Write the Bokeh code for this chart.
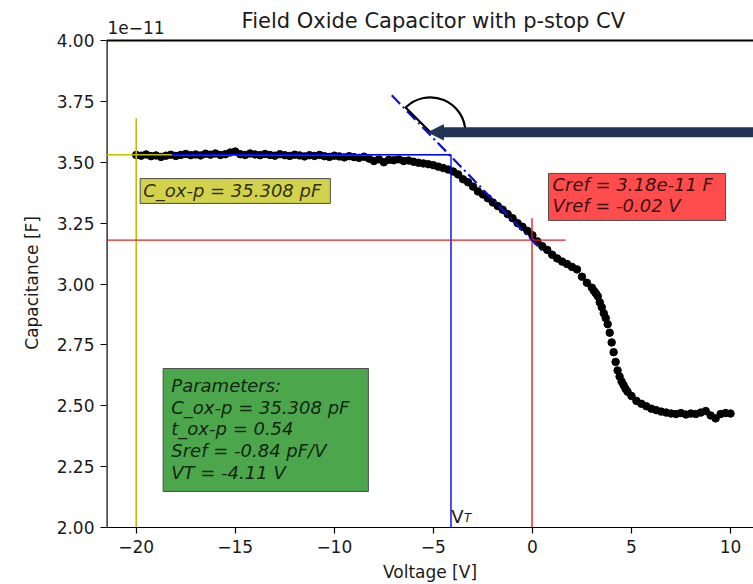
from bokeh.plotting import figure
from bokeh.models import Range1d, FixedTicker, Label, Arrow, NormalHead, PrintfTickFormatter
from bokeh.embed import file_html
from bokeh.resources import INLINE

# ---- data (capacitance in units of 1e-11 F) ----
voltage = [
    -20.00, -19.75, -19.50, -19.25, -19.00, -18.75, -18.50, -18.25, -18.00, -17.75,
    -17.50, -17.25, -17.00, -16.75, -16.50, -16.25, -16.00, -15.75, -15.50, -15.25,
    -15.00, -14.75, -14.50, -14.25, -14.00, -13.75, -13.50, -13.25, -13.00, -12.75,
    -12.50, -12.25, -12.00, -11.75, -11.50, -11.25, -11.00, -10.75, -10.50, -10.25,
    -10.00, -9.75, -9.50, -9.25, -9.00, -8.75, -8.50, -8.25, -8.00, -7.75,
    -7.50, -7.25, -7.00, -6.75, -6.50, -6.25, -6.00, -5.75, -5.50, -5.25,
    -5.00, -4.75, -4.50, -4.25, -4.00, -3.75, -3.50, -3.25, -3.00, -2.75,
    -2.50, -2.25, -2.00, -1.75, -1.50, -1.25, -1.00, -0.75, -0.50, -0.25,
    0.00, 0.25, 0.50, 0.75, 1.00, 1.25, 1.50, 1.75, 2.00, 2.25,
    2.50, 2.75, 3.00, 3.10, 3.20, 3.30, 3.40, 3.50, 3.60, 3.70,
    3.80, 3.90, 4.00, 4.10, 4.20, 4.30, 4.40, 4.50, 4.60, 4.70,
    4.80, 5.00, 5.25, 5.50, 5.75, 6.00, 6.25, 6.50, 6.75, 7.00,
    7.25, 7.50, 7.75, 8.00, 8.25, 8.50, 8.75, 9.00, 9.25, 9.50,
    9.75, 10.00,
]
capacitance = [
    3.530, 3.527, 3.532, 3.525, 3.528, 3.522, 3.527, 3.531, 3.526, 3.530,
    3.534, 3.529, 3.532, 3.528, 3.535, 3.531, 3.536, 3.530, 3.533, 3.540,
    3.544, 3.533, 3.530, 3.536, 3.532, 3.529, 3.534, 3.530, 3.527, 3.533,
    3.529, 3.526, 3.531, 3.528, 3.524, 3.529, 3.526, 3.530, 3.525, 3.522,
    3.527, 3.524, 3.520, 3.525, 3.521, 3.518, 3.523, 3.515, 3.505, 3.512,
    3.500, 3.510, 3.508, 3.512, 3.505, 3.507, 3.502, 3.498, 3.495, 3.492,
    3.488, 3.482, 3.476, 3.470, 3.462, 3.450, 3.430, 3.418, 3.400, 3.380,
    3.368, 3.352, 3.335, 3.320, 3.305, 3.287, 3.270, 3.250, 3.235, 3.218,
    3.200, 3.175, 3.155, 3.140, 3.120, 3.105, 3.092, 3.082, 3.070, 3.060,
    3.030, 3.005, 2.985, 2.972, 2.962, 2.950, 2.925, 2.905, 2.880, 2.860,
    2.835, 2.800, 2.760, 2.720, 2.680, 2.645, 2.620, 2.600, 2.585, 2.570,
    2.558, 2.540, 2.520, 2.508, 2.498, 2.488, 2.482, 2.476, 2.472, 2.468,
    2.466, 2.470, 2.464, 2.468, 2.466, 2.472, 2.478, 2.460, 2.448, 2.466,
    2.470, 2.468,
]

# extracted parameters
c_ox_pf = 35.308      # pF
t_ox = 0.54
s_ref_pf = -0.84      # pF/V
vt = -4.11            # V
c_ref = 3.18e-11      # F
v_ref = -0.02         # V
v_start = -20.0

x_ticks = [-20, -15, -10, -5, 0, 5, 10]
x_tick_labels = ["\u221220", "\u221215", "\u221210", "\u22125", "0", "5", "10"]
y_ticks = [2.00, 2.25, 2.50, 2.75, 3.00, 3.25, 3.50, 3.75, 4.00]

title_text = "Field Oxide Capacitor with p-stop CV"
offset_text = "1e\u221211"

SCALE = 1e-11
c_ox = c_ox_pf * 1e-12 / SCALE
c_ref_u = c_ref / SCALE
slope_u = s_ref_pf * 1e-12 / SCALE

FONT = "DejaVu Sans"
X0, X1 = -21.5, 11.16
Y0, Y1 = 2.0, 4.0
PX_PER_UNIT = 243.5
Y_TOP = Y1 + 40 / PX_PER_UNIT     # frame reaches the top of the canvas; header drawn inside

p = figure(width=753, height=584, x_range=Range1d(X0, X1), y_range=Range1d(Y0, Y_TOP),
           output_backend="svg", toolbar_location=None, title=None,
           min_border_left=106, min_border_right=0, min_border_top=0, min_border_bottom=57)
p.xgrid.visible = False
p.ygrid.visible = False
p.outline_line_color = None

for ax in (p.xaxis[0], p.yaxis[0]):
    ax.axis_line_color = "black"
    ax.axis_line_width = 1.2
    ax.major_tick_line_color = "black"
    ax.major_tick_line_width = 1.2
    ax.major_tick_in = 0
    ax.major_tick_out = 6
    ax.minor_tick_line_color = None
    ax.major_label_text_font = FONT
    ax.major_label_text_font_size = "17px"
    ax.major_label_text_color = "#1a1a1a"
    ax.major_label_standoff = 6
    ax.axis_label_text_font = FONT
    ax.axis_label_text_font_size = "17px"
    ax.axis_label_text_font_style = "normal"
    ax.axis_label_text_color = "#1a1a1a"

p.xaxis.ticker = FixedTicker(ticks=x_ticks)
p.xaxis.major_label_overrides = dict(zip(x_ticks, x_tick_labels))
p.xaxis.axis_label = "Voltage [V]"
p.xaxis.axis_label_standoff = 6
p.yaxis.ticker = FixedTicker(ticks=y_ticks)
p.yaxis.formatter = PrintfTickFormatter(format="%.2f")
p.yaxis.axis_label = "Capacitance [F]" + "\u00a0" * 7
p.yaxis.axis_label_standoff = 12
p.yaxis.axis_line_color = None

# spines (left and top), drawn as glyphs so they stop at the axes box
p.line([X0, X0], [Y0, Y1], color="black", line_width=2.4)
p.line([X0, X1], [Y1, Y1], color="black", line_width=2.0)

# data points
p.scatter(voltage, capacitance, size=7.5, color="black")

# guide lines
p.line([X0, vt], [c_ox, c_ox], color="#bfbf00", line_width=1.6)
p.line([v_start, v_start], [Y0, c_ox + 0.15], color="#bfbf00", line_width=1.6)
p.line([-18.2, vt], [c_ox, c_ox], color="blue", line_width=1.4)
p.line([vt, vt], [Y0, c_ox], color="blue", line_width=1.4)
p.line([X0, v_ref + 1.7], [c_ref_u, c_ref_u], color="#e02020", line_width=1.4)
p.line([v_ref, v_ref], [Y0, c_ref_u + 0.09], color="#e02020", line_width=1.4)

tan_v = [-7.1, 0.5]
tan_c = [c_ref_u + slope_u * (v - v_ref) for v in tan_v]
p.line(tan_v, tan_c, color="#1010d0", line_width=2.2, line_dash="12 4 2 4")

# angle marker + arrow
wx = -5.15
wy = c_ref_u + slope_u * (wx - v_ref) + 0.012
p.wedge(x=[wx], y=[wy], radius=35, radius_units="screen", start_angle=0, end_angle=2.356,
        fill_color=None, line_color="black", line_width=2.2)
p.segment(x0=[-4.6], y0=[wy], x1=[X1 + 1], y1=[wy], color="#1f3553", line_width=10)
p.add_layout(Arrow(x_start=-4.5, y_start=wy, x_end=-5.25, y_end=wy, line_width=1, line_color="#1f3553",
                   end=NormalHead(size=15, fill_color="#1f3553", line_color="#1f3553")))

# annotation boxes
boxes = [
    # (left, right, bottom, top, fill)
    (-19.80, -10.20, 3.331, 3.433, "#d2d24c"),
    (0.81, 9.75, 3.261, 3.454, "#ff4c4c"),
    (-18.64, -8.28, 2.148, 2.653, "#4ca64c"),
]
p.quad(left=[b[0] for b in boxes], right=[b[1] for b in boxes], bottom=[b[2] for b in boxes],
       top=[b[3] for b in boxes], fill_color=[b[4] for b in boxes], line_color="#4c4c4c", line_width=1)

def lab(x, y, text, size="18px", style="italic", baseline="middle", color="black", alpha=0.8, align="left"):
    p.add_layout(Label(x=x, y=y, text=text, text_font=FONT, text_font_size=size, text_font_style=style,
                       text_align=align, text_baseline=baseline, text_color=color, text_alpha=alpha))

lab(-19.65, 3.382, f"C_ox-p = {c_ox_pf:.3f} pF")
lab(1.01, 3.409, f"Cref = {c_ref:.2e} F")
lab(1.01, 3.322, f"Vref = {v_ref:.2f} V")
green_lines = ["Parameters:", f"C_ox-p = {c_ox_pf:.3f} pF", f"t_ox-p = {t_ox:.2f}",
               f"Sref = {s_ref_pf:.2f} pF/V", f"VT = {vt:.2f} V"]
for txt, yy in zip(green_lines, [2.583, 2.493, 2.407, 2.316, 2.226]):
    lab(-18.23, yy, txt)

lab(-4.10, 2.046, "V", size="18px", style="normal", baseline="alphabetic", color="#1a1a1a", alpha=1)
lab(-3.45, 2.040, "T", size="12px", style="italic", baseline="alphabetic", color="#1a1a1a", alpha=1)

# header texts (inside the extended frame, above the axes box)
lab(-5.0, Y1 + 19.5 / PX_PER_UNIT, title_text, size="21px", style="normal", baseline="alphabetic",
    color="#1a1a1a", alpha=1, align="center")
lab(-21.45, Y1 + 13 / PX_PER_UNIT, offset_text, size="17px", style="normal", baseline="middle",
    color="#1a1a1a", alpha=1)

open("out.html", "w").write(file_html(p, INLINE))
